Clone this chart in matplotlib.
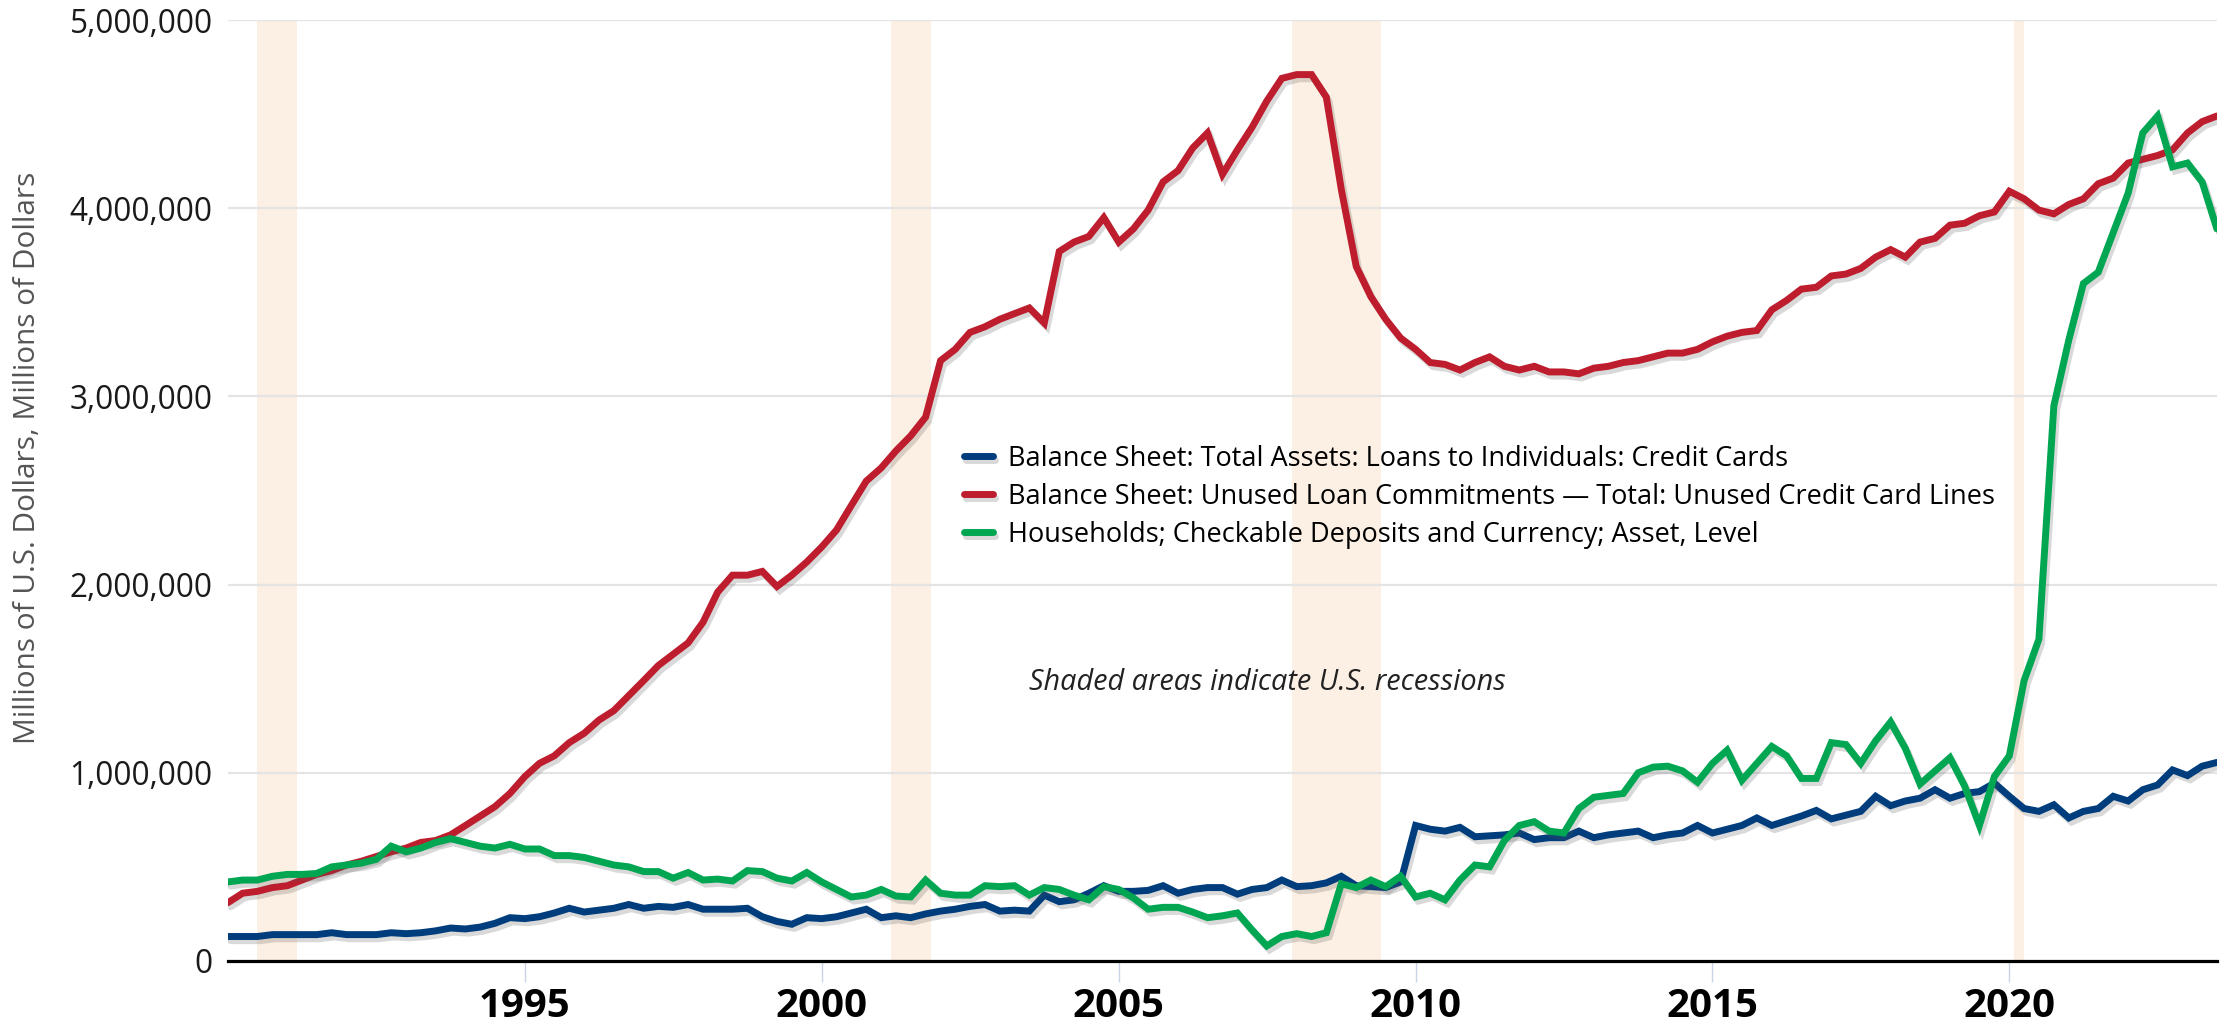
import numpy as np
import pandas as pd
import matplotlib
matplotlib.use('Agg')
import matplotlib.pyplot as plt
import matplotlib.dates as mdates
import matplotlib.patheffects as pe
from matplotlib.ticker import FuncFormatter

# quarterly values, in millions of millions of dollars (x1e6 below)
credit_card_loans = [
    0.13, 0.13, 0.13, 0.14, 0.14, 0.14, 0.14, 0.15, 0.14, 0.14, 0.14, 0.15,
    0.145, 0.15, 0.16, 0.175, 0.17, 0.18, 0.20, 0.23, 0.225, 0.235, 0.255, 0.28,
    0.26, 0.27, 0.28, 0.30, 0.28, 0.29, 0.285, 0.30, 0.275, 0.275, 0.275, 0.28,
    0.235, 0.21, 0.195, 0.23, 0.225, 0.235, 0.255, 0.275, 0.23, 0.24, 0.23, 0.25,
    0.265, 0.275, 0.29, 0.30, 0.265, 0.27, 0.265, 0.35, 0.315, 0.325, 0.36, 0.40,
    0.37, 0.37, 0.375, 0.40, 0.36, 0.38, 0.39, 0.39, 0.355, 0.38, 0.39, 0.43,
    0.395, 0.40, 0.415, 0.45, 0.40, 0.395, 0.39, 0.42, 0.72, 0.70, 0.69, 0.71,
    0.66, 0.665, 0.67, 0.68, 0.645, 0.655, 0.655, 0.69, 0.655, 0.67, 0.68, 0.69,
    0.655, 0.67, 0.68, 0.72, 0.68, 0.70, 0.72, 0.76, 0.72, 0.745, 0.77, 0.80,
    0.755, 0.775, 0.795, 0.875, 0.825, 0.85, 0.865, 0.91, 0.865, 0.89, 0.90, 0.945,
    0.875, 0.81, 0.795, 0.83, 0.76, 0.795, 0.81, 0.875, 0.85, 0.91, 0.935, 1.015,
    0.985, 1.035, 1.055,
]
unused_lines = [
    0.31, 0.36, 0.37, 0.39, 0.40, 0.43, 0.46, 0.48, 0.51, 0.53, 0.555, 0.58,
    0.60, 0.63, 0.64, 0.67, 0.72, 0.77, 0.82, 0.89, 0.98, 1.05, 1.09, 1.16,
    1.21, 1.28, 1.33, 1.41, 1.49, 1.57, 1.63, 1.69, 1.80, 1.96, 2.05, 2.05,
    2.07, 1.99, 2.05, 2.12, 2.20, 2.29, 2.42, 2.55, 2.62, 2.71, 2.79, 2.89,
    3.19, 3.25, 3.34, 3.37, 3.41, 3.44, 3.47, 3.39, 3.77, 3.82, 3.85, 3.95,
    3.82, 3.89, 3.99, 4.14, 4.20, 4.32, 4.40, 4.18, 4.31, 4.43, 4.57, 4.69,
    4.71, 4.71, 4.59, 4.10, 3.69, 3.53, 3.41, 3.31, 3.25, 3.18, 3.17, 3.14,
    3.18, 3.21, 3.16, 3.14, 3.16, 3.13, 3.13, 3.12, 3.15, 3.16, 3.18, 3.19,
    3.21, 3.23, 3.23, 3.25, 3.29, 3.32, 3.34, 3.35, 3.46, 3.51, 3.57, 3.58,
    3.64, 3.65, 3.68, 3.74, 3.78, 3.74, 3.82, 3.84, 3.91, 3.92, 3.96, 3.98,
    4.09, 4.05, 3.99, 3.97, 4.02, 4.05, 4.13, 4.16, 4.24, 4.26, 4.28, 4.31,
    4.40, 4.46, 4.49,
]
checkable_deposits = [
    0.42, 0.43, 0.43, 0.45, 0.46, 0.46, 0.465, 0.50, 0.51, 0.52, 0.54, 0.61,
    0.58, 0.60, 0.63, 0.65, 0.63, 0.61, 0.60, 0.62, 0.595, 0.595, 0.56, 0.56,
    0.55, 0.53, 0.51, 0.50, 0.475, 0.475, 0.44, 0.47, 0.43, 0.435, 0.425, 0.48,
    0.475, 0.44, 0.425, 0.47, 0.42, 0.38, 0.34, 0.35, 0.38, 0.345, 0.34, 0.43,
    0.36, 0.35, 0.35, 0.40, 0.395, 0.40, 0.35, 0.39, 0.38, 0.35, 0.325, 0.395,
    0.38, 0.335, 0.275, 0.285, 0.285, 0.26, 0.23, 0.24, 0.255, 0.165, 0.08, 0.13,
    0.145, 0.13, 0.15, 0.41, 0.39, 0.43, 0.395, 0.45, 0.34, 0.36, 0.325, 0.43,
    0.51, 0.50, 0.64, 0.72, 0.74, 0.69, 0.68, 0.81, 0.87, 0.88, 0.89, 1.00,
    1.03, 1.035, 1.01, 0.95, 1.05, 1.12, 0.96, 1.05, 1.14, 1.09, 0.97, 0.97,
    1.16, 1.15, 1.05, 1.17, 1.27, 1.13, 0.94, 1.01, 1.08, 0.93, 0.72, 0.98,
    1.09, 1.49, 1.71, 2.95, 3.30, 3.60, 3.66, 3.87, 4.08, 4.40, 4.49, 4.22,
    4.24, 4.14, 3.89,
]
series_labels = [
    'Balance Sheet: Total Assets: Loans to Individuals: Credit Cards',
    'Balance Sheet: Unused Loan Commitments \u2014 Total: Unused Credit Card Lines',
    'Households; Checkable Deposits and Currency; Asset, Level',
]
recession_start = ['1990-07-01', '2001-03-01', '2007-12-01', '2020-02-01']
recession_end = ['1991-03-01', '2001-11-01', '2009-06-01', '2020-04-01']
tick_years = [1995, 2000, 2005, 2010, 2015, 2020]


def main():
    plt.rcParams['font.family'] = ['Open Sans', 'DejaVu Sans']

    dates = pd.date_range('1990-01-01', periods=len(unused_lines), freq='QS')
    df = pd.DataFrame({
        'loans': np.array(credit_card_loans) * 1e6,
        'unused': np.array(unused_lines) * 1e6,
        'deposits': np.array(checkable_deposits) * 1e6,
    }, index=dates)

    fig = plt.figure(figsize=(22.33, 10.21), dpi=100)
    ax = fig.add_axes([0.1021, 0.0588, 0.8907, 0.9216])

    for s, e in zip(recession_start, recession_end):
        ax.axvspan(pd.Timestamp(s), pd.Timestamp(e), color='#fcefe3', lw=0, zorder=0)

    shadow = [pe.SimpleLineShadow(offset=(2, -3), shadow_color='#555555', alpha=0.22),
              pe.Normal()]
    colors = ['#003d7c', '#bd1d2d', '#00a651']
    for col, c, lab in zip(['loans', 'unused', 'deposits'], colors, series_labels):
        ax.plot(df.index, df[col], color=c, lw=5.0, label=lab, zorder=3,
                solid_joinstyle='miter', solid_capstyle='round', path_effects=shadow)

    ax.set_xlim(df.index[0], df.index[-1])
    ax.set_ylim(0, 5e6)
    ax.set_yticks(np.arange(0, 5e6 + 1, 1e6))
    ax.yaxis.set_major_formatter(FuncFormatter(lambda v, p: '{:,.0f}'.format(v)))
    ax.grid(axis='y', color='#e4e4e4', lw=1.6, zorder=1)
    ax.set_axisbelow(True)

    ax.set_xticks([pd.Timestamp('%d-01-01' % y) for y in tick_years])
    ax.xaxis.set_major_formatter(mdates.DateFormatter('%Y'))

    for sp in ['top', 'right', 'left']:
        ax.spines[sp].set_visible(False)
    ax.spines['bottom'].set_color('black')
    ax.spines['bottom'].set_linewidth(2.3)
    ax.spines['bottom'].set_zorder(4)

    ax.tick_params(axis='y', length=0, pad=11, labelsize=22.7, labelcolor='#1a1a1a')
    ax.tick_params(axis='x', length=15, width=1, color='#c8d3e6', pad=4,
                   labelsize=29, labelcolor='black')
    for t in ax.get_xticklabels():
        t.set_fontweight('bold')

    ax.set_ylabel('Millions of U.S. Dollars, Millions of Dollars', fontsize=21.4,
                  color='#555555')
    ax.yaxis.set_label_coords(-0.0935, 0.535)

    leg = ax.legend(loc='upper left', bbox_to_anchor=(0.4315, 0.5645),
                    bbox_transform=fig.transFigure, frameon=False, fontsize=19.5,
                    handlelength=1.07, handletextpad=0.57, labelspacing=0.37,
                    borderpad=0, borderaxespad=0)
    for h in leg.get_lines():
        h.set_linewidth(5)
        h.set_solid_capstyle('round')
        h.set_path_effects([pe.SimpleLineShadow(offset=(2, -3), shadow_color='#555555',
                                                alpha=0.22), pe.Normal()])

    fig.text(0.4608, 0.332, 'Shaded areas indicate U.S. recessions', fontsize=20.8,
             style='italic', color='#222222', ha='left', va='center')

    plt.savefig('out.png', dpi=100)


if __name__ == "__main__":
    main()
